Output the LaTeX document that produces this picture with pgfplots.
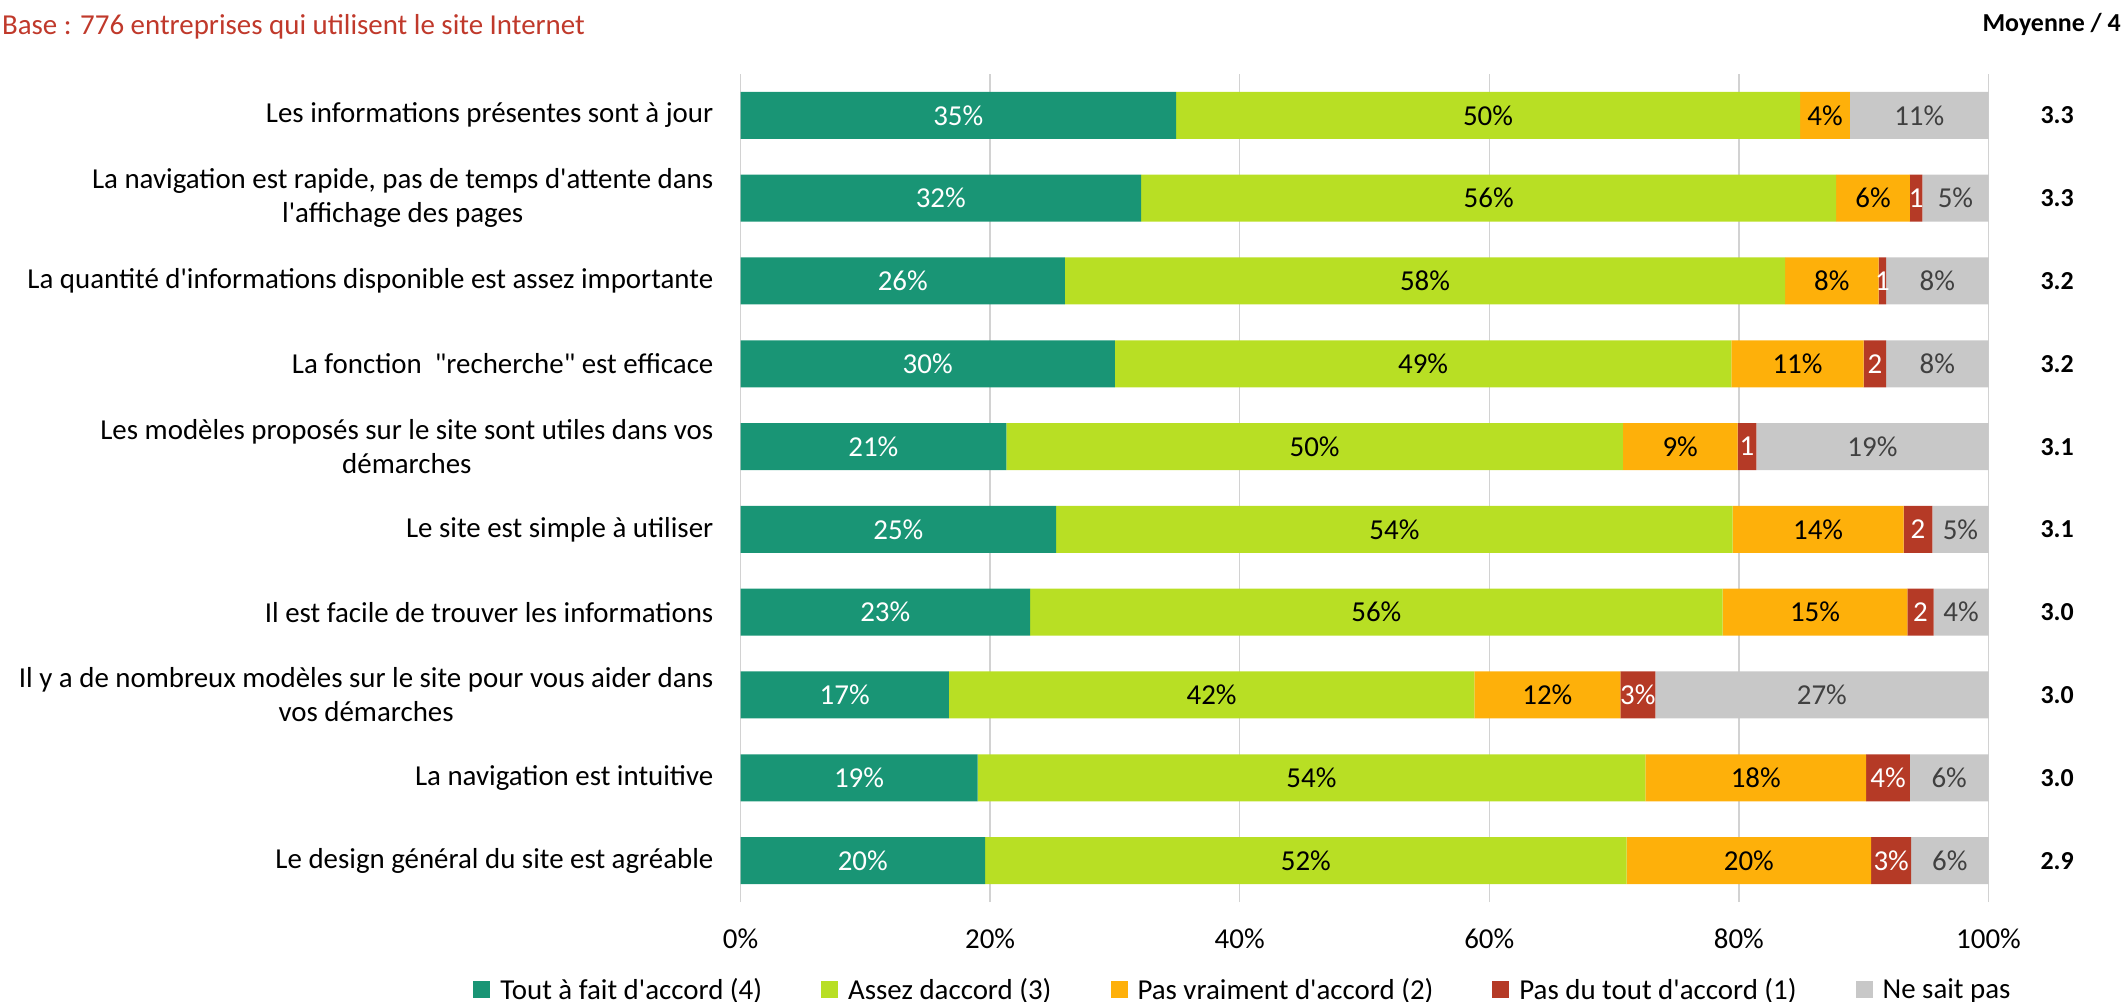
\documentclass[border=0pt]{standalone}
\usepackage{pgfplots}
\usepackage{pgfplotstable}
\pgfplotsset{compat=1.18}
\usepackage{fontspec}
\setmainfont{Carlito}[Ligatures=TeXOff]
\definecolor{cA}{RGB}{25,149,117}
\definecolor{cB}{RGB}{184,223,36}
\definecolor{cC}{RGB}{254,176,10}
\definecolor{cD}{RGB}{181,58,38}
\definecolor{cE}{RGB}{200,200,200}
\definecolor{gridc}{RGB}{210,210,210}
\definecolor{basered}{RGB}{192,57,43}
\definecolor{greytext}{RGB}{64,64,64}
\newcommand{\fs}{\fontsize{29}{34}\selectfont}
\pgfplotstableread{
y a    la    b    lb    c    lc    d   ld    e    le
9 34.9 35\% 50.0 50\% 4.0  4\%  0.0 {}    11.1 11\%
8 32.1 32\% 55.7 56\% 5.9  6\%  1.0 1     5.3  5\%
7 26.0 26\% 57.7 58\% 7.5  8\%  0.6 1     8.2  8\%
6 30.0 30\% 49.4 49\% 10.6 11\% 1.8 2     8.2  8\%
5 21.3 21\% 49.4 50\% 9.2  9\%  1.5 1     18.6 19\%
4 25.3 25\% 54.2 54\% 13.7 14\% 2.3 2     4.5  5\%
3 23.2 23\% 55.5 56\% 14.8 15\% 2.1 2     4.4  4\%
2 16.7 17\% 42.1 42\% 11.7 12\% 2.8 3\%   26.7 27\%
1 19.0 19\% 53.5 54\% 17.7 18\% 3.5 4\%   6.3  6\%
0 19.6 20\% 51.4 52\% 19.6 20\% 3.2 3\%   6.2  6\%
}\datatable
\begin{document}
\begin{tikzpicture}
\useasboundingbox (0,0) rectangle (2123bp,1002bp);
\begin{axis}[
  at={(740.5bp,100bp)}, anchor=south west,
  scale only axis, width=1248bp, height=828bp,
  xbar stacked, bar width=47bp,
  xmin=0, xmax=100, ymin=-0.5, ymax=9.5,
  xtick={0,20,...,100}, xticklabels={0\%,20\%,40\%,60\%,80\%,100\%},
  ytick={0,...,9},
  yticklabels={
    {Le design général du site est agréable},
    {La navigation est intuitive},
    {Il y a de nombreux modèles sur le site pour vous aider dans\\vos démarches},
    {Il est facile de trouver les informations},
    {Le site est simple à utiliser},
    {Les modèles proposés sur le site sont utiles dans vos\\démarches},
    {La fonction\ \ "recherche" est efficace},
    {La quantité d'informations disponible est assez importante},
    {La navigation est rapide, pas de temps d'attente dans\\l'affichage des pages},
    {Les informations présentes sont à jour}},
  xmajorgrids, grid style={draw=gridc, line width=1.5bp},
  axis line style={draw=none}, major tick length=0pt,
  tick label style={font=\fs},
  yticklabel style={align=center, anchor=east, inner sep=0pt, xshift=-27bp},
  xticklabel style={anchor=base, inner sep=0pt, yshift=-46bp},
  clip=false,
  point meta=explicit symbolic,
  nodes near coords,
  every node near coord/.append style={anchor=center, font=\fs},
  legend columns=5,
  legend style={draw=none, fill=none, at={(0.4026,-0.1057)}, anchor=center, font=\fs,
    /tikz/every odd column/.append style={column sep=8bp},
    /tikz/every even column/.append style={column sep=57bp}},
  legend image code/.code={\fill[#1] (0bp,-8.5bp) rectangle (17bp,8.5bp);},
]
\addplot[fill=cA, draw=none,
  every node near coord/.append style={text=white}] table[x=a, y=y, meta=la] {\datatable};
\addplot[fill=cB, draw=none,
  every node near coord/.append style={text=black}] table[x=b, y=y, meta=lb] {\datatable};
\addplot[fill=cC, draw=none,
  every node near coord/.append style={text=black}] table[x=c, y=y, meta=lc] {\datatable};
\addplot[fill=cD, draw=none,
  every node near coord/.append style={text=white}] table[x=d, y=y, meta=ld] {\datatable};
\addplot[fill=cE, draw=none,
  every node near coord/.append style={text=greytext}] table[x=e, y=y, meta=le] {\datatable};
\legend{Tout à fait d'accord (4), Assez daccord (3), Pas vraiment d'accord (2), Pas du tout d'accord (1), Ne sait pas}
\node[font=\fontsize{26}{31}\selectfont\bfseries] at (axis cs:105.5,9) {3.3};
\node[font=\fontsize{26}{31}\selectfont\bfseries] at (axis cs:105.5,8) {3.3};
\node[font=\fontsize{26}{31}\selectfont\bfseries] at (axis cs:105.5,7) {3.2};
\node[font=\fontsize{26}{31}\selectfont\bfseries] at (axis cs:105.5,6) {3.2};
\node[font=\fontsize{26}{31}\selectfont\bfseries] at (axis cs:105.5,5) {3.1};
\node[font=\fontsize{26}{31}\selectfont\bfseries] at (axis cs:105.5,4) {3.1};
\node[font=\fontsize{26}{31}\selectfont\bfseries] at (axis cs:105.5,3) {3.0};
\node[font=\fontsize{26}{31}\selectfont\bfseries] at (axis cs:105.5,2) {3.0};
\node[font=\fontsize{26}{31}\selectfont\bfseries] at (axis cs:105.5,1) {3.0};
\node[font=\fontsize{26}{31}\selectfont\bfseries] at (axis cs:105.5,0) {2.9};
\end{axis}
\node[anchor=base east, text=basered, font=\fontsize{29}{34}\selectfont, inner sep=0pt] at (585bp,967bp) {Base : 776 entreprises qui utilisent le site Internet};
\node[anchor=base east, font=\fontsize{26}{31}\selectfont\bfseries, inner sep=0pt] at (2121bp,970bp) {Moyenne / 4};
\end{tikzpicture}
\end{document}
